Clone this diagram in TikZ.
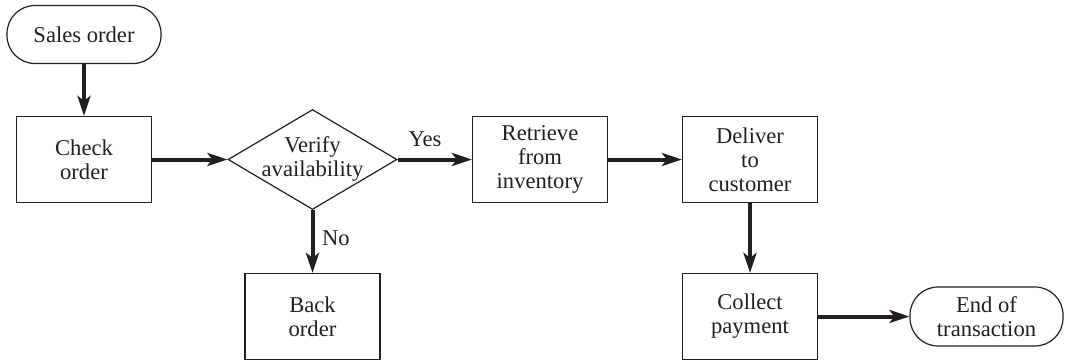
\documentclass[tikz,border=0pt]{standalone}
\usepackage{fontspec}
\setmainfont{Liberation Serif}
\usetikzlibrary{shapes.geometric,arrows.meta}
\definecolor{ink}{HTML}{231F20}
\tikzset{
  flowbox/.style={draw=ink, line width=0.6pt, minimum width=67.5pt, minimum height=43pt, inner sep=0pt, align=center, text=ink, font=\fontsize{11.3}{12}\selectfont},
  pill/.style={draw=ink, line width=0.6pt, rounded corners=14pt, minimum width=77pt, minimum height=29pt, inner sep=0pt, align=center, text=ink, font=\fontsize{11.3}{12}\selectfont},
  decision/.style={draw=ink, line width=0.6pt, diamond, aspect=1.69, minimum width=84.5pt, minimum height=50pt, inner sep=0pt},
  decisiontext/.style={align=center, text=ink, font=\fontsize{11.3}{12}\selectfont, inner sep=0pt},
  flowarrow/.style={draw=ink, line width=2pt, -{Stealth[length=10pt,width=6.5pt,inset=2.5pt]}},
  flowlabel/.style={text=ink, font=\fontsize{11.3}{12}\selectfont}
}
\begin{document}
\begin{tikzpicture}[x=0.5pt,y=-0.5pt]
\useasboundingbox (0,0) rectangle (1069,360);
\node[pill] (sales) at (84,34.5) {Sales order};
\node[flowbox] (check) at (84,159.5) {Check\\order};
\node[decision] (verify) at (312.5,159.5) {};
\node[decisiontext] (verifytext) at (312.5,159) {Verify\\availability};
\node[flowbox] (retrieve) at (540,159.5) {Retrieve\\from\\inventory};
\node[flowbox] (deliver) at (750,159.5) {Deliver\\to\\customer};
\node[flowbox] (back) at (312.5,316.5) {Back\\order};
\node[flowbox] (collect) at (750,316.5) {Collect\\payment};
\node[pill, minimum width=76.5pt, minimum height=29.5pt] (end) at (986.5,316.5) {End of\\transaction};

\draw[flowarrow] (sales.south) -- (check.north);
\draw[flowarrow] (check.east) -- (verify.west);
\draw[flowarrow] (verify.east) -- node[flowlabel, above=2pt, pos=0.37] (yes) {Yes} (retrieve.west);
\draw[flowarrow] (retrieve.east) -- (deliver.west);
\draw[flowarrow] (verify.south) -- node[flowlabel, right=0.5pt, pos=0.44] (no) {No} (back.north);
\draw[flowarrow] (deliver.south) -- (collect.north);
\draw[flowarrow] (collect.east) -- (end.west);
\end{tikzpicture}
\end{document}
